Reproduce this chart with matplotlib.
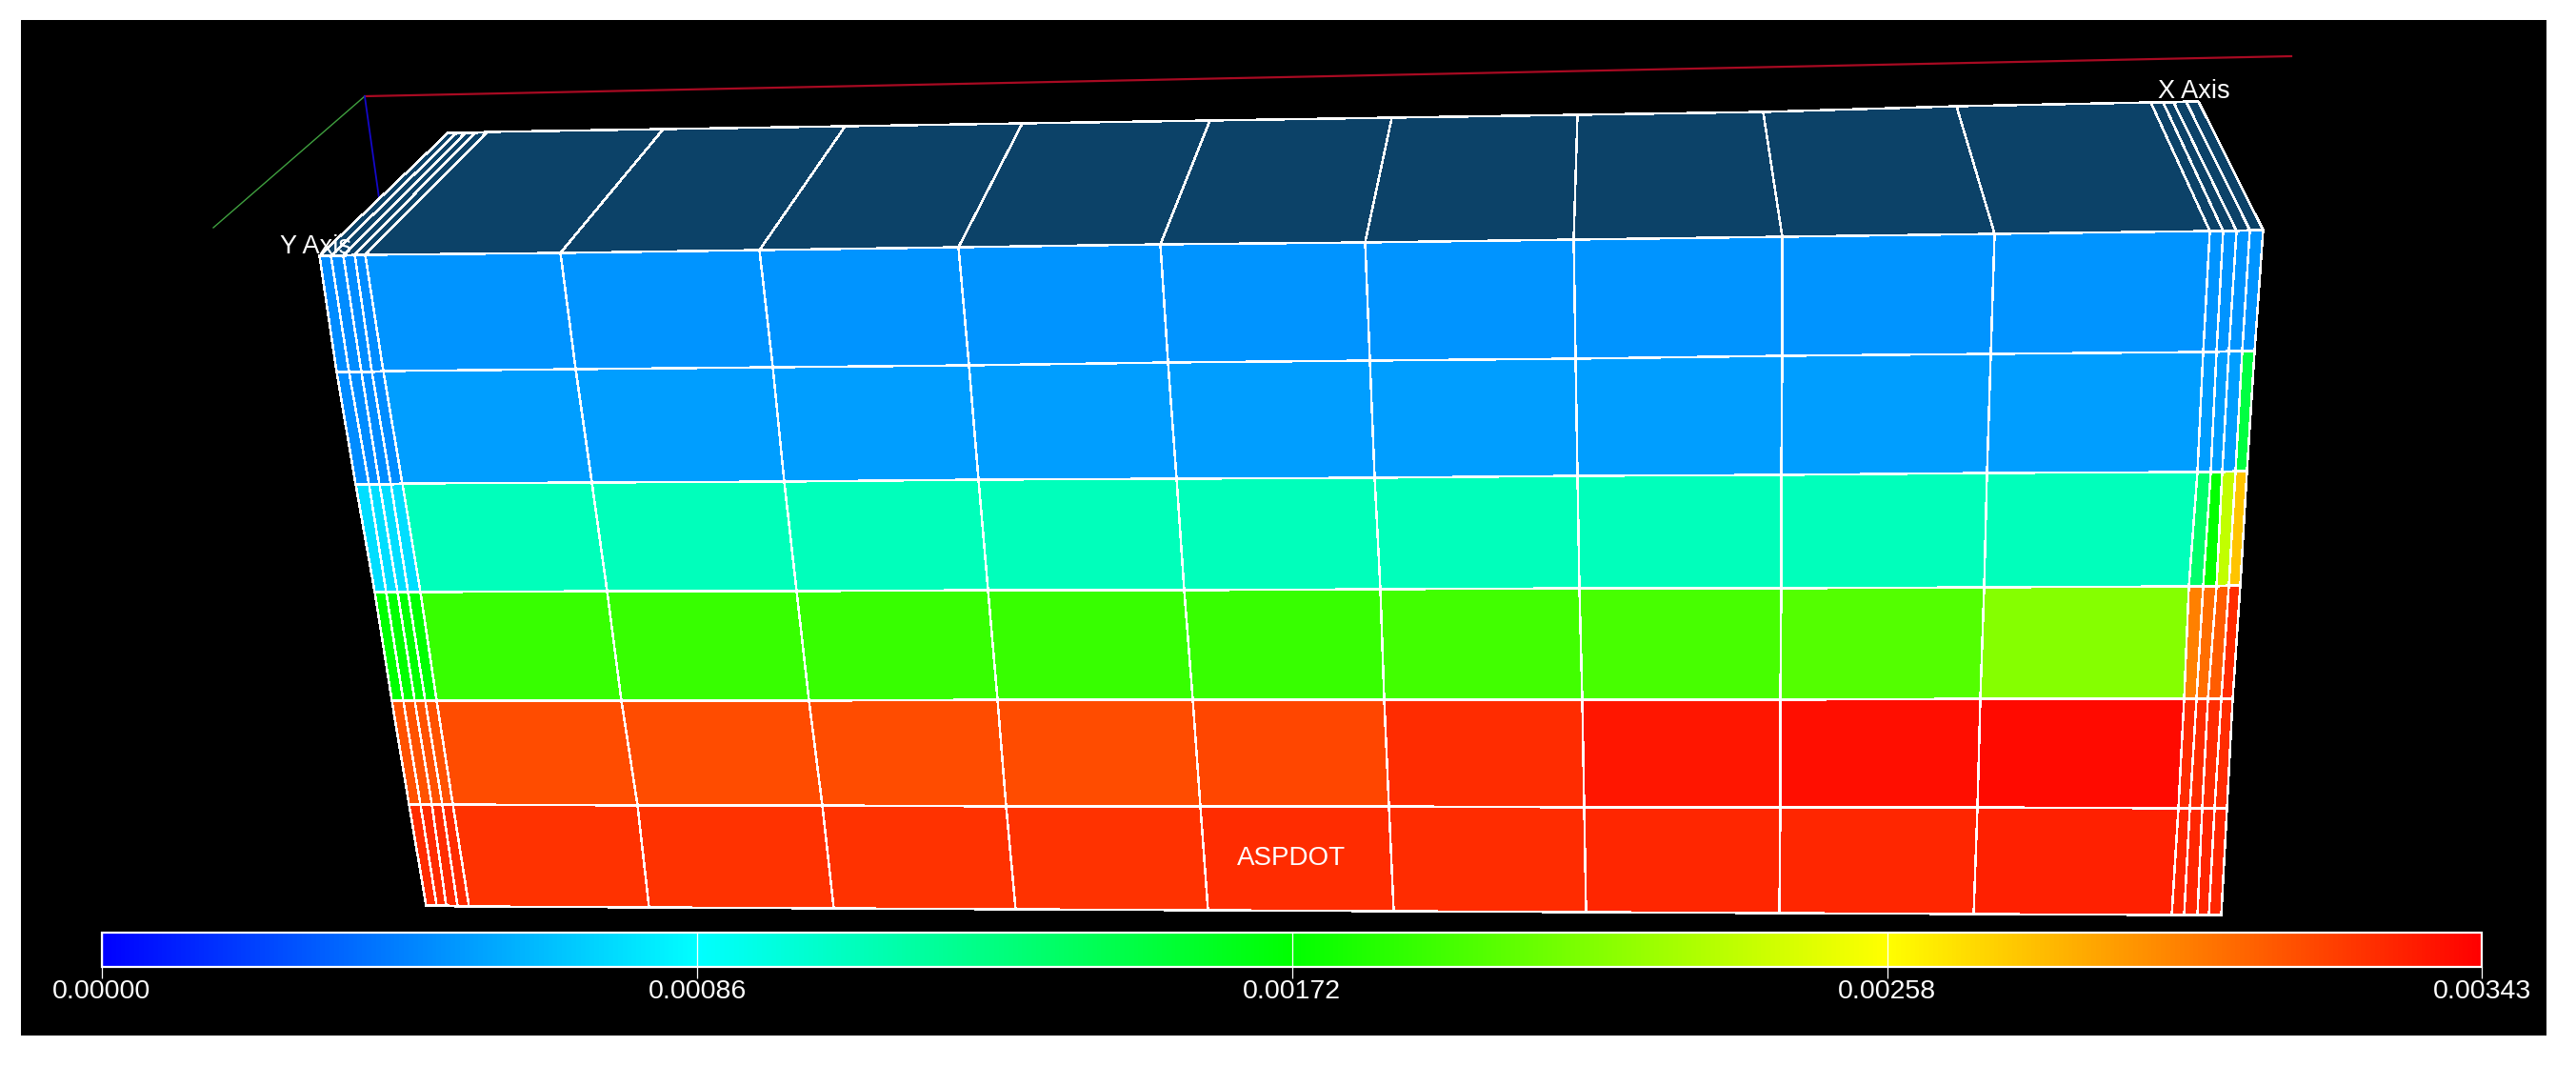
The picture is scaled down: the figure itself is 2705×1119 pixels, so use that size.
import numpy as np
import matplotlib
matplotlib.use("Agg")
import matplotlib.pyplot as plt
from matplotlib.colors import LinearSegmentedColormap, ListedColormap

W, H = 2705, 1119
L, R, T, B = 22, 2674, 21, 1087

# mesh node positions of the front face (pixels)
front_x = [
    [335, 347, 360, 372, 383, 588, 797, 1006, 1218, 1433, 1652, 1871, 2094, 2320, 2334, 2348, 2362, 2376],
    [353, 366, 379, 390, 402, 604, 811, 1017, 1226, 1438, 1654, 1871, 2090, 2313, 2327, 2340, 2354, 2367],
    [373, 387, 398, 410, 422, 621, 823, 1027, 1235, 1443, 1656, 1870, 2086, 2307, 2321, 2333, 2347, 2359],
    [393, 405, 417, 428, 441, 637, 836, 1037, 1243, 1449, 1658, 1870, 2083, 2298, 2313, 2327, 2340, 2352],
    [411, 423, 435, 446, 458, 652, 849, 1047, 1252, 1453, 1661, 1869, 2079, 2293, 2306, 2318, 2332, 2344],
    [429, 441, 453, 464, 475, 669, 863, 1056, 1260, 1458, 1663, 1869, 2076, 2287, 2299, 2312, 2325, 2338],
    [447, 458, 468, 480, 492, 681, 875, 1066, 1268, 1463, 1665, 1868, 2072, 2280, 2293, 2307, 2319, 2332],
]
front_y = [
    [268, 268, 268, 267, 267, 265, 262, 259, 256, 254, 251, 248, 245, 242, 242, 242, 241, 241],
    [390, 390, 390, 390, 389, 387, 385, 383, 380, 378, 376, 373, 371, 369, 369, 368, 368, 368],
    [508, 508, 508, 508, 507, 506, 505, 503, 502, 501, 499, 498, 496, 495, 495, 495, 494, 494],
    [621, 621, 621, 621, 621, 620, 620, 619, 619, 618, 617, 617, 616, 615, 615, 615, 614, 614],
    [735, 735, 735, 735, 735, 735, 735, 734, 734, 734, 734, 734, 733, 733, 733, 733, 733, 733],
    [844, 844, 844, 844, 844, 845, 845, 846, 846, 846, 847, 847, 847, 848, 848, 848, 848, 848],
    [950, 950, 950, 951, 951, 952, 953, 954, 955, 956, 957, 958, 959, 960, 960, 960, 960, 960],
]
# back edge of the top face
back_x = [470, 479, 488, 498, 511, 696, 887, 1073, 1270, 1461, 1656, 1851, 2054, 2258, 2271, 2282, 2295, 2308]
back_y = [139, 139, 139, 139, 138, 135, 132, 129, 126, 123, 120, 117, 111, 107, 107, 107, 106, 106]

# ASPDOT value per front-face cell, row by row from the top
aspdot = [
    [.00047, .00047, .00047, .00047, .00050, .00050, .00050, .00050, .00050, .00050, .00050, .00050, .00050, .00050, .00050, .00050, .00050],
    [.00047, .00047, .00047, .00047, .00053, .00053, .00053, .00053, .00053, .00053, .00053, .00053, .00053, .00053, .00053, .00053, .00150],
    [.00075, .00075, .00075, .00075, .00109, .00109, .00109, .00109, .00109, .00109, .00109, .00109, .00109, .00135, .00172, .00236, .00277],
    [.00172, .00172, .00172, .00172, .00190, .00190, .00190, .00190, .00190, .00193, .00195, .00199, .00216, .00300, .00306, .00312, .00328],
    [.00315, .00315, .00315, .00315, .00317, .00317, .00317, .00317, .00319, .00328, .00335, .00338, .00339, .00328, .00328, .00328, .00328],
    [.00328, .00328, .00328, .00328, .00326, .00326, .00326, .00326, .00328, .00328, .00330, .00330, .00332, .00330, .00330, .00330, .00330],
]

tick_values = [0.0, 0.000858, 0.001715, 0.002573, 0.00343]
tick_labels = ["0.00000", "0.00086", "0.00172", "0.00258", "0.00343"]
scale_colors = ["#0000ff", "#00ffff", "#00ff00", "#ffff00", "#ff0000"]
top_color = "#0c4268"

red_axis = ([383, 2406], [101, 59])
green_axis = ([383, 224], [101, 239])
blue_axis = ([383, 399], [101, 215])

plt.rcParams["font.family"] = ["Liberation Sans", "DejaVu Sans"]
fig = plt.figure(figsize=(W / 100, H / 100), dpi=100, facecolor="white")
ax = fig.add_axes([L / W, 1 - B / H, (R - L) / W, (B - T) / H], facecolor="black")
ax.set_xlim(L, R)
ax.set_ylim(B, T)
ax.axis("off")
ax.add_patch(plt.Rectangle((L, T), R - L, B - T, color="black", zorder=0))

ax.plot(*red_axis, color="#a80a22", lw=1.6, zorder=1)
ax.plot(*green_axis, color="#3fa03f", lw=1.0, zorder=1)
ax.plot(*blue_axis, color="#1408c8", lw=1.3, zorder=1)

cmap = LinearSegmentedColormap.from_list("rainbow5", scale_colors, N=512)
fx, fy = np.array(front_x), np.array(front_y)
mesh = ax.pcolormesh(fx, fy, np.array(aspdot), cmap=cmap, vmin=tick_values[0], vmax=tick_values[-1],
                     shading="flat", edgecolors="white", linewidth=1.05, zorder=2)
top_x = np.vstack([back_x, fx[0]])
top_y = np.vstack([back_y, fy[0]])
ax.pcolormesh(top_x, top_y, np.zeros((1, top_x.shape[1] - 1)), cmap=ListedColormap([top_color]),
              shading="flat", edgecolors="white", linewidth=1.05, zorder=2)

ax.text(332, 259, "Y Axis", color="white", fontsize=19.5, ha="center", va="center", zorder=5)
ax.text(2304, 96, "X Axis", color="white", fontsize=19.5, ha="center", va="center", zorder=5)
ax.text(1356, 901, "ASPDOT", color="white", fontsize=20, ha="center", va="center", zorder=5)

cax = fig.add_axes([107 / W, 1 - 1015 / H, (2606 - 107) / W, 36 / H])
cb = fig.colorbar(mesh, cax=cax, orientation="horizontal", ticks=tick_values)
cb.set_ticklabels(tick_labels)
cb.outline.set_edgecolor("white")
cb.outline.set_linewidth(1.6)
cax.tick_params(axis="x", colors="white", length=8.5, width=0.9, pad=1, labelsize=20.5)
for v in tick_values:
    cax.axvline(v, color="white", lw=0.9)

fig.savefig("out.png", dpi=100, facecolor="white")
